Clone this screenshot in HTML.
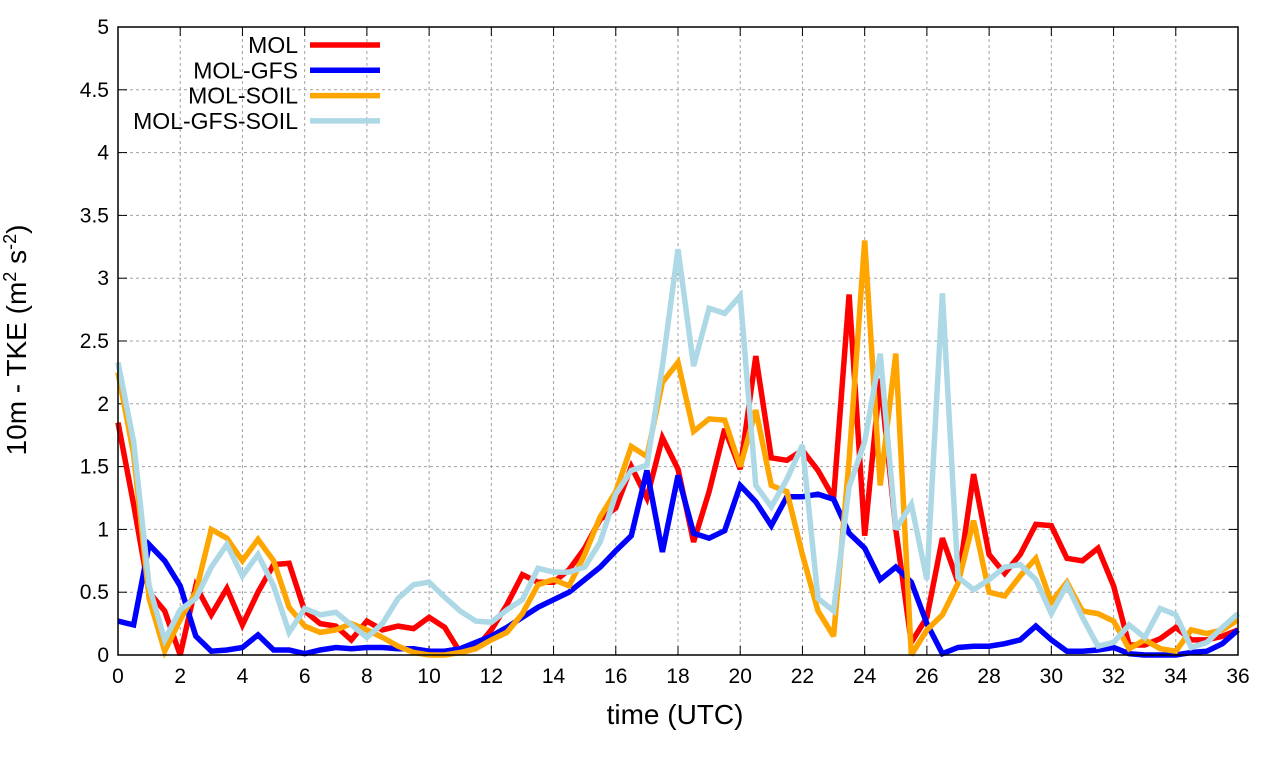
<!DOCTYPE html>
<html><head><meta charset="utf-8"><style>
body{margin:0;background:#fff;}
svg{display:block;font-family:"Liberation Sans",sans-serif;}
</style></head><body>
<svg id="chart" width="1280" height="760" xmlns="http://www.w3.org/2000/svg"></svg>
<script>
const times = [];
for (let i = 0; i <= 72; i++) times.push(i * 0.5);
const molValues = [1.85,1.2,0.5,0.35,0.0,0.55,0.32,0.53,0.24,0.5,0.72,0.73,0.35,0.25,0.23,0.12,0.27,0.2,0.23,0.21,0.3,0.22,0.02,0.05,0.2,0.4,0.64,0.58,0.58,0.68,0.85,1.08,1.17,1.5,1.25,1.73,1.48,0.9,1.3,1.8,1.48,2.38,1.57,1.55,1.63,1.47,1.25,2.87,0.95,2.2,1.0,0.1,0.3,0.93,0.58,1.44,0.8,0.65,0.8,1.04,1.03,0.77,0.75,0.85,0.55,0.08,0.08,0.13,0.22,0.12,0.12,0.15,0.2];
const molGfsValues = [0.27,0.24,0.88,0.75,0.55,0.15,0.03,0.04,0.06,0.16,0.04,0.04,0.01,0.04,0.06,0.05,0.06,0.06,0.05,0.05,0.03,0.03,0.05,0.1,0.15,0.22,0.3,0.38,0.44,0.5,0.6,0.7,0.83,0.95,1.47,0.82,1.43,0.97,0.93,0.99,1.35,1.22,1.03,1.26,1.26,1.28,1.24,0.97,0.85,0.6,0.7,0.58,0.25,0.01,0.06,0.07,0.07,0.09,0.12,0.23,0.12,0.03,0.03,0.04,0.06,0.01,0.0,0.0,0.0,0.02,0.03,0.09,0.2];
const molSoilValues = [2.25,1.6,0.45,0.03,0.28,0.5,1.0,0.93,0.75,0.92,0.75,0.38,0.23,0.18,0.2,0.25,0.2,0.14,0.07,0.02,0.0,0.0,0.02,0.05,0.12,0.18,0.33,0.56,0.6,0.55,0.8,1.1,1.3,1.66,1.58,2.17,2.33,1.78,1.88,1.87,1.5,1.95,1.35,1.3,0.8,0.35,0.15,1.55,3.3,1.35,2.4,0.0,0.2,0.32,0.57,1.07,0.5,0.47,0.63,0.77,0.42,0.58,0.35,0.33,0.27,0.05,0.12,0.05,0.03,0.2,0.17,0.2,0.28];
const molGfsSoilValues = [2.33,1.7,0.55,0.12,0.36,0.45,0.7,0.88,0.63,0.8,0.55,0.18,0.37,0.32,0.34,0.24,0.14,0.25,0.45,0.56,0.58,0.46,0.35,0.27,0.26,0.36,0.44,0.69,0.66,0.66,0.7,0.9,1.28,1.47,1.51,2.3,3.23,2.3,2.76,2.72,2.86,1.35,1.18,1.4,1.67,0.45,0.35,1.34,1.7,2.4,1.0,1.2,0.6,2.88,0.62,0.52,0.6,0.7,0.72,0.6,0.33,0.56,0.3,0.07,0.1,0.24,0.14,0.37,0.32,0.06,0.1,0.22,0.33];
const xTicks = [0,2,4,6,8,10,12,14,16,18,20,22,24,26,28,30,32,34,36];
const yTicks = [0,0.5,1,1.5,2,2.5,3,3.5,4,4.5,5];
const yTickLabels = ["0","0.5","1","1.5","2","2.5","3","3.5","4","4.5","5"];
const seriesNames = ["MOL","MOL-GFS","MOL-SOIL","MOL-GFS-SOIL"];
const seriesColors = ["#ff0000","#0000ff","#ffa500","#add8e6"];

const L=118,R=1238,T=27,B=655;
const xs=t=>L+(t-0)/36*(R-L);
const ys=v=>B-v/5*(B-T);
const NS="http://www.w3.org/2000/svg";
const svg=document.getElementById('chart');
function mk(tag,attrs,parent){const e=document.createElementNS(NS,tag);for(const k in attrs)e.setAttribute(k,attrs[k]);(parent||svg).appendChild(e);return e;}

const grid=mk('g',{});


xTicks.forEach(t=>{if(t>0&&t<36)mk('line',{x1:xs(t),x2:xs(t),y1:T,y2:B,stroke:'#a0a0a0','stroke-width':1,'stroke-dasharray':'3,3'},grid);});
yTicks.forEach(v=>{if(v>0&&v<5)mk('line',{x1:L,x2:R,y1:ys(v),y2:ys(v),stroke:'#a0a0a0','stroke-width':1,'stroke-dasharray':'3,3'},grid);});

const xAxis=mk('g',{});


xTicks.forEach(t=>{
  mk('line',{x1:xs(t),x2:xs(t),y1:B,y2:B-9,stroke:'#000'},xAxis);
  mk('line',{x1:xs(t),x2:xs(t),y1:T,y2:T+9,stroke:'#000'},xAxis);
  const tx=mk('text',{x:xs(t),y:B+28,'text-anchor':'middle','font-size':21},xAxis);
  tx.textContent=t;
  
  
});
const yAxis=mk('g',{});


yTicks.forEach((v,i)=>{
  mk('line',{x1:L,x2:L+9,y1:ys(v),y2:ys(v),stroke:'#000'},yAxis);
  mk('line',{x1:R,x2:R-9,y1:ys(v),y2:ys(v),stroke:'#000'},yAxis);
  const tx=mk('text',{x:L-9,y:ys(v)+7,'text-anchor':'end','font-size':21},yAxis);
  tx.textContent=yTickLabels[i];
  
  
});

const allSeries=[molValues,molGfsValues,molSoilValues,molGfsSoilValues];
allSeries.forEach((vals,si)=>{
  const pts=vals.map((v,i)=>xs(times[i]).toFixed(1)+','+ys(v).toFixed(1)).join(' ');
  const pl=mk('polyline',{points:pts,fill:'none',stroke:seriesColors[si],'stroke-width':5.5,'stroke-linejoin':'miter','stroke-miterlimit':3});
  
  
});

const frame=mk('rect',{x:L,y:T,width:R-L,height:B-T,fill:'none',stroke:'#000','stroke-width':1.5});



const legend=mk('g',{});


seriesNames.forEach((n,i)=>{
  const y=45+i*25.3;
  const tx=mk('text',{x:298,y:y+8,'text-anchor':'end','font-size':23},legend);
  tx.textContent=n;
  
  
  mk('line',{x1:310,x2:380,y1:y,y2:y,stroke:seriesColors[i],'stroke-width':5.5},legend);
});

const xl=mk('text',{x:675,y:724,'text-anchor':'middle','font-size':28});
xl.textContent='time (UTC)';


const yl=mk('text',{x:0,y:0,'text-anchor':'middle','font-size':28,transform:'translate(26,340) rotate(-90)'});


yl.innerHTML='10m - TKE (m<tspan dy="-10" font-size="18">2</tspan><tspan dy="10"> s</tspan><tspan dy="-10" font-size="18">-2</tspan><tspan dy="10">)</tspan>';
</script>
</body></html>
